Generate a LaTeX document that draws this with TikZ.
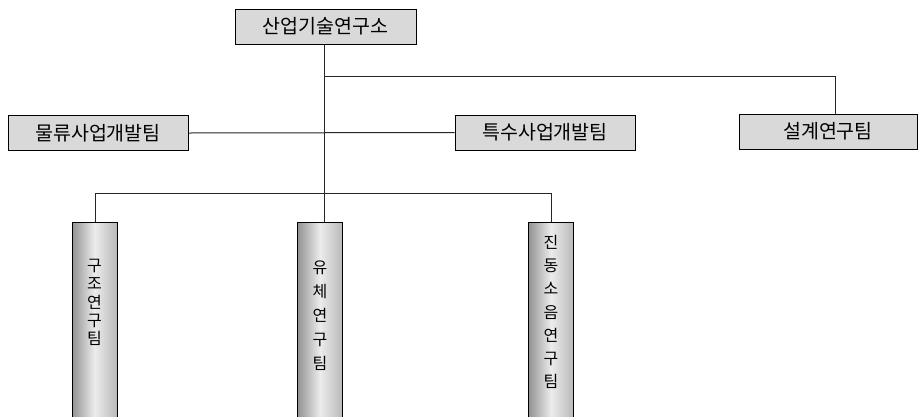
\documentclass[tikz,border=0pt]{standalone}
\usepackage{fontspec}
\newfontfamily\kr{Noto Sans CJK KR}
\begin{document}
\begin{tikzpicture}[x=1pt,y=-1pt,
  hbox/.style={draw=black,line width=1pt,fill=gray!30,minimum height=35pt,inner sep=0pt,font=\kr\fontsize{19.5}{21}\selectfont},
  vbox/.style={draw=black,line width=1pt,left color=gray!85,right color=gray!55,middle color=gray!15,minimum width=45pt,minimum height=200pt,inner sep=0pt,anchor=north},
  vtext/.style={inner sep=0pt,align=center},
  conn/.style={line width=1pt,draw=black!85}]
\useasboundingbox (0,0) rectangle (924,416);
\node[hbox,minimum width=181pt] (top) at (325.5,26.5) {산업기술연구소};
\node[hbox,minimum width=180pt] (mul) at (98,133) {물류사업개발팀};
\node[hbox,minimum width=180pt] (tuk) at (545,132.5) {특수사업개발팀};
\node[hbox,minimum width=178pt] (sul) at (828,131.5) {설계연구팀};
\node[vbox] (gu) at (94.5,222) {};
\node[vbox] (yu) at (320,222) {};
\node[vbox] (jin) at (551,222) {};
\node[vtext,font=\kr\fontsize{16}{18.3}\selectfont] (gut) at (94.5,302.5) {구\\조\\연\\구\\팀};
\node[vtext,font=\kr\fontsize{16}{24}\selectfont] (yut) at (320,315.5) {유\\체\\연\\구\\팀};
\node[vtext,font=\kr\fontsize{16}{23.3}\selectfont] (jint) at (551,312) {진\\동\\소\\음\\연\\구\\팀};
\coordinate (a) at (324,76);
\coordinate (b) at (835,76);
\coordinate (c) at (95,193);
\coordinate (d) at (551,193);
\draw[conn] (top.south -| a) -- (324,222);
\draw[conn] (a) -- (b) -- (sul.north -| b);
\draw[conn] (mul.east) -- (tuk.west);
\draw[conn] (gu.north -| c) -- (c) -- (d) -- (jin.north -| d);
\end{tikzpicture}
\end{document}
